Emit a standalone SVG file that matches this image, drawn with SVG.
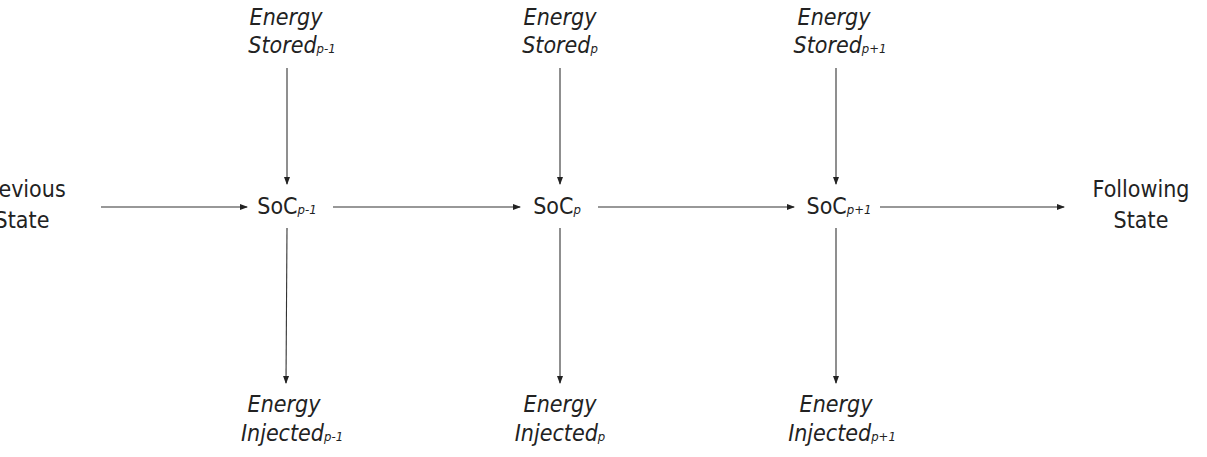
<svg xmlns="http://www.w3.org/2000/svg" width="1207" height="457" viewBox="0 0 1207 457">
<style>
.t{font-family:"DejaVu Sans Condensed","DejaVu Sans","Liberation Sans",sans-serif;font-stretch:condensed;font-size:23px;fill:#222;text-anchor:middle}
.i{font-style:italic}
.s{font-size:13px;font-style:italic}
.c line{stroke:#333;stroke-width:1.1;marker-end:url(#ah)}
</style>
<defs><marker id="ah" markerWidth="8" markerHeight="8" refX="7" refY="4" orient="auto" markerUnits="userSpaceOnUse"><path d="M0,1 L8,4 L0,7 Z" fill="#222"/></marker></defs>
<rect width="1207" height="457" fill="#fff"/>
<g class="c" id="connectors">
<line x1="101" y1="207" x2="247" y2="207"/>
<line x1="333" y1="207" x2="520" y2="207"/>
<line x1="598" y1="207" x2="794" y2="207"/>
<line x1="880" y1="207" x2="1064" y2="207"/>
<line x1="287" y1="68" x2="287" y2="184"/>
<line x1="560" y1="68" x2="560" y2="184"/>
<line x1="836" y1="68" x2="836" y2="184"/>
<line x1="287" y1="228" x2="286" y2="383"/>
<line x1="560" y1="228" x2="560" y2="383"/>
<line x1="836" y1="228" x2="836" y2="383"/>
</g>
<g id="prev"><text class="t" x="22" y="197">Previous</text><text class="t" x="22" y="228">State</text></g>
<g id="next"><text class="t" x="1141" y="197">Following</text><text class="t" x="1141" y="228">State</text></g>
<g id="soc1"><text class="t" x="287" y="214">SoC<tspan class="s">p-1</tspan></text></g>
<g id="soc2"><text class="t" x="557" y="214">SoC<tspan class="s">p</tspan></text></g>
<g id="soc3"><text class="t" x="839" y="214">SoC<tspan class="s">p+1</tspan></text></g>
<g id="es1"><text class="t i" x="286" y="25">Energy</text><text class="t i" x="292" y="53">Stored<tspan class="s">p-1</tspan></text></g>
<g id="es2"><text class="t i" x="560" y="25">Energy</text><text class="t i" x="560" y="53">Stored<tspan class="s">p</tspan></text></g>
<g id="es3"><text class="t i" x="834" y="25">Energy</text><text class="t i" x="840" y="53">Stored<tspan class="s">p+1</tspan></text></g>
<g id="ei1"><text class="t i" x="284" y="412">Energy</text><text class="t i" x="292" y="441">Injected<tspan class="s">p-1</tspan></text></g>
<g id="ei2"><text class="t i" x="560" y="412">Energy</text><text class="t i" x="560" y="441">Injected<tspan class="s">p</tspan></text></g>
<g id="ei3"><text class="t i" x="836" y="412">Energy</text><text class="t i" x="842" y="441">Injected<tspan class="s">p+1</tspan></text></g>
</svg>
